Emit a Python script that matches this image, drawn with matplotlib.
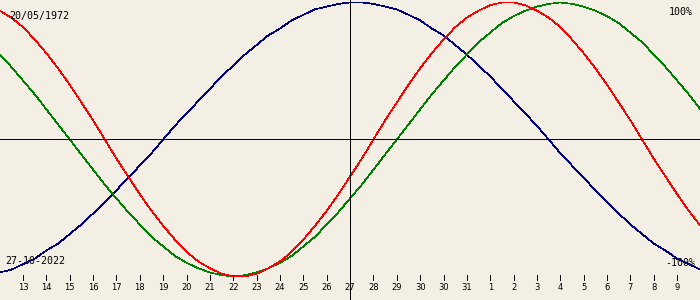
import numpy as np
import matplotlib
matplotlib.use("Agg")
import matplotlib.pyplot as plt

# biorhythm for birth 20/05/1972, centred on 27-10-2022
birth_label = "20/05/1972"
date_label = "27-10-2022"
day_labels = ["13", "14", "15", "16", "17", "18", "19", "20", "21", "22",
              "23", "24", "25", "26", "27", "28", "29", "30", "30", "31",
              "1", "2", "3", "4", "5", "6", "7", "8", "9"]
today_index = 14

# values in %, every half day, from the day before "13" to the day after "9"
physical = [94, 89, 82, 73, 63, 52, 40, 27, 14, 0,
            -14, -27, -40, -52, -63, -73, -82, -89, -94, -98,
            -100, -100, -98, -94, -89, -82, -73, -63, -52, -40,
            -27, -14, 0, 14, 27, 40, 52, 63, 73, 82,
            89, 94, 98, 100, 100, 98, 94, 89, 82, 73,
            63, 52, 40, 27, 14, 0, -14, -27, -40, -52, -63]
emotional = [62, 53, 43, 33, 22, 11, 0, -11, -22, -33,
             -43, -53, -62, -71, -78, -85, -90, -94, -97, -99,
             -100, -99, -97, -94, -90, -85, -78, -71, -62, -53,
             -43, -33, -22, -11, 0, 11, 22, 33, 43, 53,
             62, 71, 78, 85, 90, 94, 97, 99, 100, 99,
             97, 94, 90, 85, 78, 71, 62, 53, 43, 33, 22]
intellectual = [-97, -95, -91, -87, -81, -76, -69, -62, -54, -46,
                -37, -28, -19, -10, 0, 10, 19, 28, 37, 46,
                54, 62, 69, 76, 81, 87, 91, 95, 97, 99,
                100, 100, 99, 97, 95, 91, 87, 81, 76, 69,
                62, 54, 46, 37, 28, 19, 10, 0, -10, -19,
                -28, -37, -46, -54, -62, -69, -76, -81, -87, -91, -95]

bg = "#f3efe4"
fig = plt.figure(figsize=(7, 3), dpi=100, facecolor=bg)
ax = fig.add_axes([0, 0, 1, 1])
ax.set_facecolor(bg)
ax.axis("off")

days = np.arange(len(physical)) / 2 - 1
lw = 0.5
ax.plot(days, intellectual, color="#000080", lw=lw, antialiased=False)
ax.plot(days, emotional, color="#008000", lw=lw, antialiased=False)
ax.plot(days, physical, color="#ff0000", lw=lw, antialiased=False)

ax.axhline(0, color="black", lw=lw, antialiased=False)
ax.axvline(today_index, color="black", lw=lw, antialiased=False)

ax.set_xlim(-0.985, 28.98)
ax.set_ylim(-117.15, 101.82)

# day ticks along the bottom
tick_x = np.arange(len(day_labels))
trans = ax.get_xaxis_transform()
ax.vlines(tick_x, 1 - 280 / 300, 1 - 275 / 300, color="black", lw=lw,
          transform=trans, antialiased=False)
for x, lab in zip(tick_x, day_labels):
    ax.text(x, 1 - 288 / 300, lab, transform=trans, ha="center", va="center",
            fontsize=6, family="DejaVu Sans")

mono = "DejaVu Sans Mono"
ax.text(9 / 700, 1 - 16 / 300, birth_label, transform=ax.transAxes,
        ha="left", va="center", fontsize=7.2, family=mono)
ax.text(693 / 700, 1 - 12 / 300, "100%", transform=ax.transAxes,
        ha="right", va="center", fontsize=7.2, family=mono)
ax.text(5 / 700, 1 - 261.5 / 300, date_label, transform=ax.transAxes,
        ha="left", va="center", fontsize=7.2, family=mono)
ax.text(695 / 700, 1 - 262.5 / 300, "-100%", transform=ax.transAxes,
        ha="right", va="center", fontsize=7.2, family=mono)

fig.savefig("out.png", dpi=100, facecolor=bg)
